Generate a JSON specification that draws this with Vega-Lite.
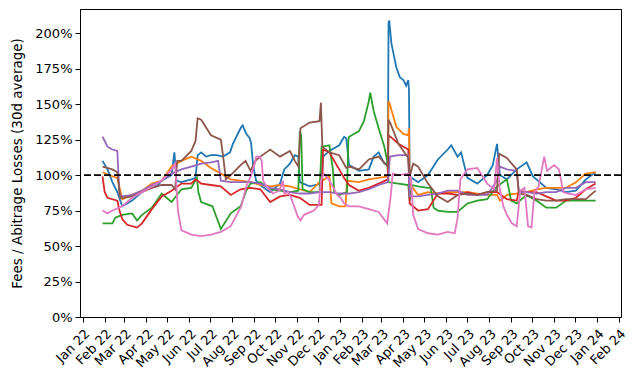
{
  "$schema": "https://vega.github.io/schema/vega-lite/v6.json",
  "width": 541,
  "height": 308,
  "autosize": "none",
  "padding": {"left": 80, "top": 9, "right": 17, "bottom": 66},
  "background": "white",
  "config": {
    "font": "DejaVu Sans",
    "view": {"stroke": "black", "strokeWidth": 1},
    "axis": {"domainColor": "black", "tickColor": "black", "labelColor": "black", "titleColor": "black", "grid": false, "labelFont": "DejaVu Sans", "titleFont": "DejaVu Sans"}
  },
  "datasets": {
    "series": [
{"d":"2022-01-29","s":"s1","v":110},{"d":"2022-02-05","s":"s1","v":104},{"d":"2022-02-12","s":"s1","v":95},{"d":"2022-02-19","s":"s1","v":88},{"d":"2022-02-26","s":"s1","v":78},{"d":"2022-03-05","s":"s1","v":80},{"d":"2022-03-12","s":"s1","v":82},{"d":"2022-03-26","s":"s1","v":88},{"d":"2022-04-09","s":"s1","v":93},{"d":"2022-04-16","s":"s1","v":92},{"d":"2022-04-23","s":"s1","v":96},{"d":"2022-05-07","s":"s1","v":100},{"d":"2022-05-11","s":"s1","v":116},{"d":"2022-05-14","s":"s1","v":96},{"d":"2022-05-21","s":"s1","v":95},{"d":"2022-06-04","s":"s1","v":97},{"d":"2022-06-10","s":"s1","v":98},{"d":"2022-06-13","s":"s1","v":114},{"d":"2022-06-18","s":"s1","v":116},{"d":"2022-06-25","s":"s1","v":113},{"d":"2022-07-02","s":"s1","v":114},{"d":"2022-07-10","s":"s1","v":114},{"d":"2022-07-19","s":"s1","v":113},{"d":"2022-07-29","s":"s1","v":116},{"d":"2022-08-02","s":"s1","v":122},{"d":"2022-08-07","s":"s1","v":127},{"d":"2022-08-14","s":"s1","v":134},{"d":"2022-08-16","s":"s1","v":135},{"d":"2022-08-21","s":"s1","v":129},{"d":"2022-08-26","s":"s1","v":126},{"d":"2022-08-28","s":"s1","v":122},{"d":"2022-08-31","s":"s1","v":106},{"d":"2022-09-04","s":"s1","v":96},{"d":"2022-09-12","s":"s1","v":92},{"d":"2022-09-24","s":"s1","v":88},{"d":"2022-10-01","s":"s1","v":91},{"d":"2022-10-08","s":"s1","v":94},{"d":"2022-10-14","s":"s1","v":104},{"d":"2022-10-22","s":"s1","v":108},{"d":"2022-10-29","s":"s1","v":114},{"d":"2022-11-03","s":"s1","v":113},{"d":"2022-11-05","s":"s1","v":95},{"d":"2022-11-19","s":"s1","v":92},{"d":"2022-12-06","s":"s1","v":94},{"d":"2022-12-08","s":"s1","v":113},{"d":"2022-12-17","s":"s1","v":117},{"d":"2022-12-31","s":"s1","v":121},{"d":"2023-01-07","s":"s1","v":127},{"d":"2023-01-10","s":"s1","v":126},{"d":"2023-01-14","s":"s1","v":107},{"d":"2023-01-28","s":"s1","v":103},{"d":"2023-02-11","s":"s1","v":104},{"d":"2023-02-18","s":"s1","v":113},{"d":"2023-02-25","s":"s1","v":116},{"d":"2023-03-05","s":"s1","v":108},{"d":"2023-03-10","s":"s1","v":108},{"d":"2023-03-11","s":"s1","v":207},{"d":"2023-03-12","s":"s1","v":209},{"d":"2023-03-15","s":"s1","v":193},{"d":"2023-03-17","s":"s1","v":188},{"d":"2023-03-22","s":"s1","v":176},{"d":"2023-03-27","s":"s1","v":169},{"d":"2023-04-01","s":"s1","v":167},{"d":"2023-04-05","s":"s1","v":163},{"d":"2023-04-08","s":"s1","v":167},{"d":"2023-04-09","s":"s1","v":160},{"d":"2023-04-10","s":"s1","v":99},{"d":"2023-04-22","s":"s1","v":95},{"d":"2023-05-06","s":"s1","v":100},{"d":"2023-05-20","s":"s1","v":111},{"d":"2023-06-03","s":"s1","v":118},{"d":"2023-06-08","s":"s1","v":121},{"d":"2023-06-17","s":"s1","v":113},{"d":"2023-06-22","s":"s1","v":116},{"d":"2023-07-01","s":"s1","v":98},{"d":"2023-07-15","s":"s1","v":94},{"d":"2023-07-29","s":"s1","v":100},{"d":"2023-08-06","s":"s1","v":107},{"d":"2023-08-12","s":"s1","v":122},{"d":"2023-08-16","s":"s1","v":100},{"d":"2023-08-26","s":"s1","v":97},{"d":"2023-09-09","s":"s1","v":104},{"d":"2023-09-23","s":"s1","v":109},{"d":"2023-10-02","s":"s1","v":99},{"d":"2023-10-07","s":"s1","v":97},{"d":"2023-10-21","s":"s1","v":91},{"d":"2023-11-04","s":"s1","v":90},{"d":"2023-11-18","s":"s1","v":88},{"d":"2023-12-02","s":"s1","v":89},{"d":"2023-12-16","s":"s1","v":97},{"d":"2023-12-30","s":"s1","v":102},
{"d":"2022-01-29","s":"s2","v":102},{"d":"2022-02-12","s":"s2","v":99},{"d":"2022-02-19","s":"s2","v":98},{"d":"2022-02-26","s":"s2","v":83},{"d":"2022-03-12","s":"s2","v":86},{"d":"2022-03-26","s":"s2","v":89},{"d":"2022-04-09","s":"s2","v":94},{"d":"2022-04-23","s":"s2","v":96},{"d":"2022-05-07","s":"s2","v":106},{"d":"2022-05-21","s":"s2","v":110},{"d":"2022-06-04","s":"s2","v":113},{"d":"2022-06-18","s":"s2","v":110},{"d":"2022-07-02","s":"s2","v":105},{"d":"2022-07-16","s":"s2","v":101},{"d":"2022-07-30","s":"s2","v":97},{"d":"2022-08-13","s":"s2","v":96},{"d":"2022-08-27","s":"s2","v":95},{"d":"2022-09-10","s":"s2","v":93},{"d":"2022-09-24","s":"s2","v":92},{"d":"2022-10-08","s":"s2","v":93},{"d":"2022-10-22","s":"s2","v":92},{"d":"2022-11-05","s":"s2","v":90},{"d":"2022-11-19","s":"s2","v":88},{"d":"2022-12-03","s":"s2","v":95},{"d":"2022-12-17","s":"s2","v":99},{"d":"2022-12-20","s":"s2","v":80},{"d":"2022-12-31","s":"s2","v":78},{"d":"2023-01-09","s":"s2","v":78},{"d":"2023-01-11","s":"s2","v":96},{"d":"2023-01-28","s":"s2","v":95},{"d":"2023-02-11","s":"s2","v":97},{"d":"2023-02-25","s":"s2","v":98},{"d":"2023-03-10","s":"s2","v":99},{"d":"2023-03-11","s":"s2","v":152},{"d":"2023-03-13","s":"s2","v":150},{"d":"2023-03-15","s":"s2","v":146},{"d":"2023-03-22","s":"s2","v":134},{"d":"2023-04-01","s":"s2","v":129},{"d":"2023-04-08","s":"s2","v":128},{"d":"2023-04-09","s":"s2","v":133},{"d":"2023-04-10","s":"s2","v":94},{"d":"2023-04-22","s":"s2","v":86},{"d":"2023-05-06","s":"s2","v":88},{"d":"2023-05-20","s":"s2","v":87},{"d":"2023-06-03","s":"s2","v":88},{"d":"2023-06-17","s":"s2","v":88},{"d":"2023-07-01","s":"s2","v":88},{"d":"2023-07-15","s":"s2","v":87},{"d":"2023-07-29","s":"s2","v":86},{"d":"2023-08-12","s":"s2","v":86},{"d":"2023-08-16","s":"s2","v":82},{"d":"2023-08-26","s":"s2","v":86},{"d":"2023-09-09","s":"s2","v":87},{"d":"2023-09-23","s":"s2","v":88},{"d":"2023-10-07","s":"s2","v":90},{"d":"2023-10-21","s":"s2","v":91},{"d":"2023-11-04","s":"s2","v":91},{"d":"2023-11-18","s":"s2","v":91},{"d":"2023-12-02","s":"s2","v":95},{"d":"2023-12-16","s":"s2","v":101},{"d":"2023-12-30","s":"s2","v":102},
{"d":"2022-01-29","s":"s3","v":66},{"d":"2022-02-12","s":"s3","v":66},{"d":"2022-02-16","s":"s3","v":70},{"d":"2022-02-26","s":"s3","v":72},{"d":"2022-03-12","s":"s3","v":73},{"d":"2022-03-19","s":"s3","v":68},{"d":"2022-03-26","s":"s3","v":72},{"d":"2022-04-09","s":"s3","v":77},{"d":"2022-04-23","s":"s3","v":87},{"d":"2022-04-30","s":"s3","v":84},{"d":"2022-05-07","s":"s3","v":81},{"d":"2022-05-21","s":"s3","v":90},{"d":"2022-06-04","s":"s3","v":91},{"d":"2022-06-12","s":"s3","v":98},{"d":"2022-06-14","s":"s3","v":88},{"d":"2022-06-18","s":"s3","v":81},{"d":"2022-07-04","s":"s3","v":78},{"d":"2022-07-16","s":"s3","v":62},{"d":"2022-07-30","s":"s3","v":73},{"d":"2022-08-13","s":"s3","v":78},{"d":"2022-08-21","s":"s3","v":89},{"d":"2022-08-27","s":"s3","v":94},{"d":"2022-09-10","s":"s3","v":95},{"d":"2022-09-24","s":"s3","v":90},{"d":"2022-10-08","s":"s3","v":89},{"d":"2022-10-22","s":"s3","v":88},{"d":"2022-11-03","s":"s3","v":89},{"d":"2022-11-05","s":"s3","v":131},{"d":"2022-11-07","s":"s3","v":128},{"d":"2022-11-09","s":"s3","v":90},{"d":"2022-11-19","s":"s3","v":88},{"d":"2022-12-03","s":"s3","v":88},{"d":"2022-12-06","s":"s3","v":120},{"d":"2022-12-17","s":"s3","v":121},{"d":"2022-12-22","s":"s3","v":104},{"d":"2022-12-24","s":"s3","v":88},{"d":"2022-12-31","s":"s3","v":86},{"d":"2023-01-11","s":"s3","v":88},{"d":"2023-01-13","s":"s3","v":125},{"d":"2023-01-14","s":"s3","v":127},{"d":"2023-01-28","s":"s3","v":131},{"d":"2023-02-04","s":"s3","v":138},{"d":"2023-02-11","s":"s3","v":152},{"d":"2023-02-13","s":"s3","v":158},{"d":"2023-02-18","s":"s3","v":145},{"d":"2023-02-25","s":"s3","v":133},{"d":"2023-03-05","s":"s3","v":120},{"d":"2023-03-09","s":"s3","v":110},{"d":"2023-03-11","s":"s3","v":95},{"d":"2023-03-25","s":"s3","v":94},{"d":"2023-04-08","s":"s3","v":93},{"d":"2023-04-10","s":"s3","v":82},{"d":"2023-04-13","s":"s3","v":93},{"d":"2023-04-22","s":"s3","v":92},{"d":"2023-05-06","s":"s3","v":91},{"d":"2023-05-10","s":"s3","v":91},{"d":"2023-05-14","s":"s3","v":77},{"d":"2023-05-20","s":"s3","v":75},{"d":"2023-06-03","s":"s3","v":74},{"d":"2023-06-17","s":"s3","v":74},{"d":"2023-07-01","s":"s3","v":80},{"d":"2023-07-15","s":"s3","v":82},{"d":"2023-07-29","s":"s3","v":83},{"d":"2023-08-12","s":"s3","v":92},{"d":"2023-08-26","s":"s3","v":97},{"d":"2023-09-01","s":"s3","v":82},{"d":"2023-09-09","s":"s3","v":80},{"d":"2023-09-23","s":"s3","v":86},{"d":"2023-10-07","s":"s3","v":82},{"d":"2023-10-21","s":"s3","v":77},{"d":"2023-11-04","s":"s3","v":77},{"d":"2023-11-18","s":"s3","v":82},{"d":"2023-12-02","s":"s3","v":82},{"d":"2023-12-16","s":"s3","v":82},{"d":"2023-12-30","s":"s3","v":82},
{"d":"2022-01-29","s":"s4","v":99},{"d":"2022-02-01","s":"s4","v":88},{"d":"2022-02-05","s":"s4","v":84},{"d":"2022-02-19","s":"s4","v":82},{"d":"2022-02-22","s":"s4","v":75},{"d":"2022-02-26","s":"s4","v":69},{"d":"2022-03-05","s":"s4","v":65},{"d":"2022-03-19","s":"s4","v":63},{"d":"2022-03-26","s":"s4","v":66},{"d":"2022-04-09","s":"s4","v":76},{"d":"2022-04-23","s":"s4","v":85},{"d":"2022-05-07","s":"s4","v":89},{"d":"2022-05-21","s":"s4","v":94},{"d":"2022-06-04","s":"s4","v":94},{"d":"2022-06-10","s":"s4","v":97},{"d":"2022-06-18","s":"s4","v":94},{"d":"2022-07-02","s":"s4","v":93},{"d":"2022-07-16","s":"s4","v":92},{"d":"2022-07-30","s":"s4","v":86},{"d":"2022-08-13","s":"s4","v":90},{"d":"2022-08-27","s":"s4","v":91},{"d":"2022-09-10","s":"s4","v":90},{"d":"2022-09-24","s":"s4","v":81},{"d":"2022-10-08","s":"s4","v":85},{"d":"2022-10-22","s":"s4","v":86},{"d":"2022-11-05","s":"s4","v":84},{"d":"2022-11-19","s":"s4","v":79},{"d":"2022-12-03","s":"s4","v":79},{"d":"2022-12-06","s":"s4","v":79},{"d":"2022-12-08","s":"s4","v":118},{"d":"2022-12-17","s":"s4","v":116},{"d":"2022-12-31","s":"s4","v":104},{"d":"2023-01-07","s":"s4","v":98},{"d":"2023-01-14","s":"s4","v":93},{"d":"2023-01-28","s":"s4","v":89},{"d":"2023-02-11","s":"s4","v":91},{"d":"2023-02-25","s":"s4","v":94},{"d":"2023-03-10","s":"s4","v":97},{"d":"2023-03-11","s":"s4","v":128},{"d":"2023-03-16","s":"s4","v":126},{"d":"2023-03-25","s":"s4","v":122},{"d":"2023-04-08","s":"s4","v":118},{"d":"2023-04-10","s":"s4","v":80},{"d":"2023-04-22","s":"s4","v":75},{"d":"2023-05-06","s":"s4","v":76},{"d":"2023-05-20","s":"s4","v":87},{"d":"2023-06-03","s":"s4","v":87},{"d":"2023-06-17","s":"s4","v":86},{"d":"2023-07-01","s":"s4","v":88},{"d":"2023-07-15","s":"s4","v":86},{"d":"2023-07-29","s":"s4","v":88},{"d":"2023-08-12","s":"s4","v":88},{"d":"2023-08-26","s":"s4","v":83},{"d":"2023-09-09","s":"s4","v":82},{"d":"2023-09-12","s":"s4","v":89},{"d":"2023-09-23","s":"s4","v":88},{"d":"2023-10-07","s":"s4","v":88},{"d":"2023-10-21","s":"s4","v":85},{"d":"2023-11-04","s":"s4","v":82},{"d":"2023-11-18","s":"s4","v":82},{"d":"2023-12-02","s":"s4","v":84},{"d":"2023-12-16","s":"s4","v":90},{"d":"2023-12-30","s":"s4","v":94},
{"d":"2022-01-29","s":"s5","v":127},{"d":"2022-02-05","s":"s5","v":120},{"d":"2022-02-12","s":"s5","v":118},{"d":"2022-02-19","s":"s5","v":117},{"d":"2022-02-22","s":"s5","v":86},{"d":"2022-02-26","s":"s5","v":85},{"d":"2022-03-12","s":"s5","v":86},{"d":"2022-03-26","s":"s5","v":89},{"d":"2022-04-09","s":"s5","v":93},{"d":"2022-04-23","s":"s5","v":96},{"d":"2022-05-07","s":"s5","v":101},{"d":"2022-05-21","s":"s5","v":104},{"d":"2022-06-04","s":"s5","v":106},{"d":"2022-06-18","s":"s5","v":108},{"d":"2022-07-02","s":"s5","v":109},{"d":"2022-07-12","s":"s5","v":110},{"d":"2022-07-16","s":"s5","v":96},{"d":"2022-07-30","s":"s5","v":95},{"d":"2022-08-13","s":"s5","v":95},{"d":"2022-08-27","s":"s5","v":95},{"d":"2022-09-10","s":"s5","v":94},{"d":"2022-09-24","s":"s5","v":91},{"d":"2022-10-08","s":"s5","v":90},{"d":"2022-10-22","s":"s5","v":88},{"d":"2022-11-05","s":"s5","v":87},{"d":"2022-11-19","s":"s5","v":87},{"d":"2022-12-03","s":"s5","v":88},{"d":"2022-12-17","s":"s5","v":88},{"d":"2022-12-31","s":"s5","v":87},{"d":"2023-01-14","s":"s5","v":87},{"d":"2023-01-28","s":"s5","v":88},{"d":"2023-02-11","s":"s5","v":90},{"d":"2023-02-25","s":"s5","v":93},{"d":"2023-03-10","s":"s5","v":95},{"d":"2023-03-11","s":"s5","v":100},{"d":"2023-03-13","s":"s5","v":113},{"d":"2023-03-25","s":"s5","v":114},{"d":"2023-04-08","s":"s5","v":114},{"d":"2023-04-10","s":"s5","v":85},{"d":"2023-04-22","s":"s5","v":85},{"d":"2023-05-06","s":"s5","v":86},{"d":"2023-05-20","s":"s5","v":87},{"d":"2023-06-03","s":"s5","v":89},{"d":"2023-06-17","s":"s5","v":89},{"d":"2023-07-01","s":"s5","v":86},{"d":"2023-07-15","s":"s5","v":86},{"d":"2023-07-29","s":"s5","v":86},{"d":"2023-08-12","s":"s5","v":96},{"d":"2023-08-16","s":"s5","v":106},{"d":"2023-08-26","s":"s5","v":104},{"d":"2023-09-09","s":"s5","v":103},{"d":"2023-09-12","s":"s5","v":88},{"d":"2023-09-23","s":"s5","v":88},{"d":"2023-10-07","s":"s5","v":87},{"d":"2023-10-21","s":"s5","v":88},{"d":"2023-11-04","s":"s5","v":88},{"d":"2023-11-18","s":"s5","v":91},{"d":"2023-12-02","s":"s5","v":91},{"d":"2023-12-16","s":"s5","v":95},{"d":"2023-12-30","s":"s5","v":95},
{"d":"2022-01-29","s":"s6","v":106},{"d":"2022-02-12","s":"s6","v":104},{"d":"2022-02-19","s":"s6","v":102},{"d":"2022-02-23","s":"s6","v":84},{"d":"2022-02-26","s":"s6","v":84},{"d":"2022-03-12","s":"s6","v":85},{"d":"2022-03-26","s":"s6","v":88},{"d":"2022-04-09","s":"s6","v":91},{"d":"2022-04-23","s":"s6","v":93},{"d":"2022-05-07","s":"s6","v":93},{"d":"2022-05-12","s":"s6","v":90},{"d":"2022-05-15","s":"s6","v":110},{"d":"2022-05-21","s":"s6","v":110},{"d":"2022-06-04","s":"s6","v":117},{"d":"2022-06-10","s":"s6","v":124},{"d":"2022-06-13","s":"s6","v":140},{"d":"2022-06-18","s":"s6","v":139},{"d":"2022-07-02","s":"s6","v":128},{"d":"2022-07-16","s":"s6","v":125},{"d":"2022-07-20","s":"s6","v":110},{"d":"2022-07-23","s":"s6","v":97},{"d":"2022-07-30","s":"s6","v":100},{"d":"2022-08-13","s":"s6","v":107},{"d":"2022-08-20","s":"s6","v":110},{"d":"2022-08-27","s":"s6","v":103},{"d":"2022-09-03","s":"s6","v":110},{"d":"2022-09-10","s":"s6","v":113},{"d":"2022-09-24","s":"s6","v":118},{"d":"2022-10-08","s":"s6","v":113},{"d":"2022-10-22","s":"s6","v":117},{"d":"2022-10-29","s":"s6","v":110},{"d":"2022-11-03","s":"s6","v":106},{"d":"2022-11-06","s":"s6","v":133},{"d":"2022-11-19","s":"s6","v":137},{"d":"2022-12-03","s":"s6","v":138},{"d":"2022-12-05","s":"s6","v":151},{"d":"2022-12-07","s":"s6","v":120},{"d":"2022-12-17","s":"s6","v":116},{"d":"2022-12-31","s":"s6","v":114},{"d":"2023-01-10","s":"s6","v":105},{"d":"2023-01-14","s":"s6","v":106},{"d":"2023-01-28","s":"s6","v":104},{"d":"2023-02-11","s":"s6","v":111},{"d":"2023-02-25","s":"s6","v":113},{"d":"2023-03-10","s":"s6","v":106},{"d":"2023-03-11","s":"s6","v":139},{"d":"2023-03-14","s":"s6","v":136},{"d":"2023-03-25","s":"s6","v":122},{"d":"2023-04-08","s":"s6","v":112},{"d":"2023-04-10","s":"s6","v":99},{"d":"2023-04-15","s":"s6","v":108},{"d":"2023-04-22","s":"s6","v":106},{"d":"2023-05-06","s":"s6","v":94},{"d":"2023-05-20","s":"s6","v":85},{"d":"2023-06-03","s":"s6","v":81},{"d":"2023-06-17","s":"s6","v":86},{"d":"2023-07-01","s":"s6","v":87},{"d":"2023-07-15","s":"s6","v":86},{"d":"2023-07-29","s":"s6","v":88},{"d":"2023-08-12","s":"s6","v":89},{"d":"2023-08-15","s":"s6","v":115},{"d":"2023-08-26","s":"s6","v":112},{"d":"2023-09-09","s":"s6","v":104},{"d":"2023-09-12","s":"s6","v":87},{"d":"2023-09-23","s":"s6","v":86},{"d":"2023-10-07","s":"s6","v":83},{"d":"2023-10-21","s":"s6","v":82},{"d":"2023-11-04","s":"s6","v":82},{"d":"2023-11-18","s":"s6","v":83},{"d":"2023-12-02","s":"s6","v":83},{"d":"2023-12-16","s":"s6","v":83},{"d":"2023-12-30","s":"s6","v":89},
{"d":"2022-01-29","s":"s7","v":75},{"d":"2022-02-05","s":"s7","v":73},{"d":"2022-02-12","s":"s7","v":75},{"d":"2022-02-26","s":"s7","v":78},{"d":"2022-03-12","s":"s7","v":84},{"d":"2022-03-26","s":"s7","v":88},{"d":"2022-04-09","s":"s7","v":92},{"d":"2022-04-23","s":"s7","v":96},{"d":"2022-05-07","s":"s7","v":104},{"d":"2022-05-12","s":"s7","v":108},{"d":"2022-05-16","s":"s7","v":75},{"d":"2022-05-21","s":"s7","v":61},{"d":"2022-06-04","s":"s7","v":58},{"d":"2022-06-18","s":"s7","v":57},{"d":"2022-07-02","s":"s7","v":58},{"d":"2022-07-16","s":"s7","v":60},{"d":"2022-07-30","s":"s7","v":64},{"d":"2022-08-14","s":"s7","v":78},{"d":"2022-08-21","s":"s7","v":92},{"d":"2022-08-28","s":"s7","v":100},{"d":"2022-09-02","s":"s7","v":108},{"d":"2022-09-04","s":"s7","v":113},{"d":"2022-09-09","s":"s7","v":113},{"d":"2022-09-12","s":"s7","v":110},{"d":"2022-09-14","s":"s7","v":96},{"d":"2022-09-19","s":"s7","v":92},{"d":"2022-09-28","s":"s7","v":87},{"d":"2022-10-07","s":"s7","v":89},{"d":"2022-10-12","s":"s7","v":96},{"d":"2022-10-14","s":"s7","v":87},{"d":"2022-10-19","s":"s7","v":88},{"d":"2022-10-23","s":"s7","v":85},{"d":"2022-10-28","s":"s7","v":78},{"d":"2022-11-02","s":"s7","v":71},{"d":"2022-11-06","s":"s7","v":68},{"d":"2022-11-11","s":"s7","v":72},{"d":"2022-11-25","s":"s7","v":75},{"d":"2022-12-02","s":"s7","v":79},{"d":"2022-12-05","s":"s7","v":96},{"d":"2022-12-09","s":"s7","v":101},{"d":"2022-12-16","s":"s7","v":97},{"d":"2022-12-23","s":"s7","v":91},{"d":"2022-12-28","s":"s7","v":86},{"d":"2023-01-02","s":"s7","v":84},{"d":"2023-01-07","s":"s7","v":80},{"d":"2023-01-14","s":"s7","v":78},{"d":"2023-01-28","s":"s7","v":78},{"d":"2023-02-11","s":"s7","v":76},{"d":"2023-02-25","s":"s7","v":74},{"d":"2023-03-09","s":"s7","v":66},{"d":"2023-03-14","s":"s7","v":85},{"d":"2023-03-17","s":"s7","v":101},{"d":"2023-03-25","s":"s7","v":100},{"d":"2023-04-08","s":"s7","v":101},{"d":"2023-04-12","s":"s7","v":98},{"d":"2023-04-15","s":"s7","v":72},{"d":"2023-04-22","s":"s7","v":62},{"d":"2023-05-06","s":"s7","v":59},{"d":"2023-05-20","s":"s7","v":58},{"d":"2023-06-03","s":"s7","v":60},{"d":"2023-06-13","s":"s7","v":59},{"d":"2023-06-17","s":"s7","v":70},{"d":"2023-06-21","s":"s7","v":97},{"d":"2023-07-01","s":"s7","v":104},{"d":"2023-07-15","s":"s7","v":105},{"d":"2023-07-29","s":"s7","v":94},{"d":"2023-08-08","s":"s7","v":90},{"d":"2023-08-12","s":"s7","v":112},{"d":"2023-08-16","s":"s7","v":90},{"d":"2023-08-21","s":"s7","v":78},{"d":"2023-08-26","s":"s7","v":72},{"d":"2023-09-02","s":"s7","v":66},{"d":"2023-09-09","s":"s7","v":64},{"d":"2023-09-14","s":"s7","v":89},{"d":"2023-09-20","s":"s7","v":91},{"d":"2023-09-25","s":"s7","v":64},{"d":"2023-09-30","s":"s7","v":63},{"d":"2023-10-04","s":"s7","v":88},{"d":"2023-10-10","s":"s7","v":92},{"d":"2023-10-18","s":"s7","v":113},{"d":"2023-10-22","s":"s7","v":103},{"d":"2023-11-01","s":"s7","v":107},{"d":"2023-11-08","s":"s7","v":104},{"d":"2023-11-14","s":"s7","v":88},{"d":"2023-11-21","s":"s7","v":87},{"d":"2023-12-02","s":"s7","v":86},{"d":"2023-12-16","s":"s7","v":90},{"d":"2023-12-30","s":"s7","v":91}
    ],
    "ref": [{"v": 100}]
  },
  "encoding": {
    "y": {
      "field": "v", "type": "quantitative",
      "scale": {"domain": [0, 217], "nice": false},
      "axis": {"title": "Fees / Abitrage Losses (30d average)", "values": [0, 25, 50, 75, 100, 125, 150, 175, 200], "labelExpr": "datum.value + '%'", "labelOverlap": false, "labelFontSize": 13, "tickSize": 5, "labelPadding": 3, "titleFontSize": 13.5, "titleFontWeight": "normal", "titlePadding": 10}
    }
  },
  "layer": [
    {
      "data": {"name": "series"},
      "mark": {"type": "line", "strokeWidth": 1.8, "clip": true},
      "encoding": {
        "x": {
          "field": "d", "type": "temporal",
          "scale": {"type": "utc", "domain": [{"year": 2021, "month": 12, "date": 28, "utc": true}, {"year": 2024, "month": 2, "date": 4, "utc": true}]},
          "axis": {"title": null, "format": "%b %y", "tickCount": {"interval": "month", "step": 1}, "labelAngle": -45, "labelAlign": "right", "labelBaseline": "top", "labelFontSize": 13, "tickSize": 5, "labelPadding": 5, "labelOverlap": false, "labelFlush": false}
        },
        "color": {
          "field": "s", "type": "nominal", "legend": null,
          "scale": {"domain": ["s1", "s2", "s3", "s4", "s5", "s6", "s7"], "range": ["#1f77b4", "#ff7f0e", "#2ca02c", "#d62728", "#9467bd", "#8c564b", "#e377c2"]}
        }
      }
    },
    {
      "data": {"name": "ref"},
      "mark": {"type": "rule", "color": "black", "strokeWidth": 1.8, "strokeDash": [7, 3]},
      "encoding": {}
    }
  ]
}
